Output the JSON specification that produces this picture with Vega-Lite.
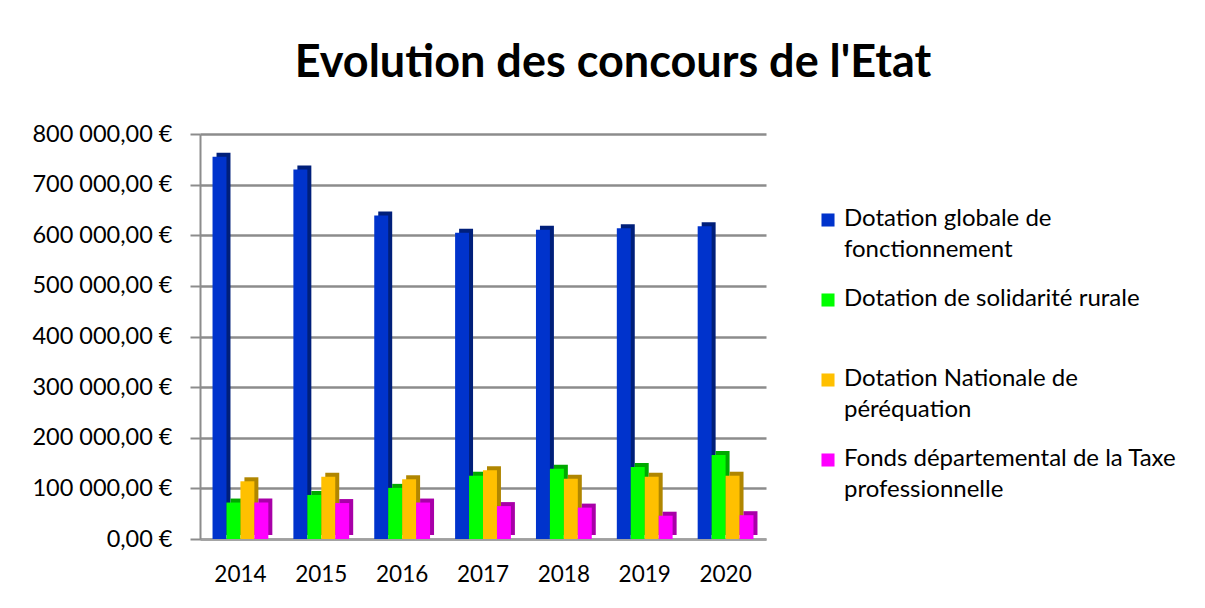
{
  "$schema": "https://vega.github.io/schema/vega-lite/v6.json",
  "width": 566,
  "height": 405,
  "autosize": {"type": "none"},
  "padding": {"left": 200, "top": 134, "right": 439, "bottom": 69},
  "background": "white",
  "title": {
    "text": "Evolution des concours de l'Etat",
    "font": "Lato",
    "fontSize": 45,
    "fontWeight": "bold",
    "color": "#000000",
    "anchor": "middle",
    "dx": 130,
    "offset": 36
  },
  "config": {
    "locale": {
      "number": {"decimal": ",", "thousands": " ", "grouping": [3], "currency": ["", " €"]}
    },
    "view": {"stroke": null},
    "font": "Lato"
  },
  "data": {
    "values": [
      {"annee": "2014", "serie": "Dotation globale de fonctionnement", "montant": 755000},
      {"annee": "2015", "serie": "Dotation globale de fonctionnement", "montant": 730000},
      {"annee": "2016", "serie": "Dotation globale de fonctionnement", "montant": 639000},
      {"annee": "2017", "serie": "Dotation globale de fonctionnement", "montant": 605000},
      {"annee": "2018", "serie": "Dotation globale de fonctionnement", "montant": 611000},
      {"annee": "2019", "serie": "Dotation globale de fonctionnement", "montant": 614000},
      {"annee": "2020", "serie": "Dotation globale de fonctionnement", "montant": 618000},
      {"annee": "2014", "serie": "Dotation de solidarité rurale", "montant": 72000},
      {"annee": "2015", "serie": "Dotation de solidarité rurale", "montant": 87000},
      {"annee": "2016", "serie": "Dotation de solidarité rurale", "montant": 101000},
      {"annee": "2017", "serie": "Dotation de solidarité rurale", "montant": 125000},
      {"annee": "2018", "serie": "Dotation de solidarité rurale", "montant": 139000},
      {"annee": "2019", "serie": "Dotation de solidarité rurale", "montant": 142000},
      {"annee": "2020", "serie": "Dotation de solidarité rurale", "montant": 166000},
      {"annee": "2014", "serie": "Dotation Nationale de péréquation", "montant": 114000},
      {"annee": "2015", "serie": "Dotation Nationale de péréquation", "montant": 123000},
      {"annee": "2016", "serie": "Dotation Nationale de péréquation", "montant": 118000},
      {"annee": "2017", "serie": "Dotation Nationale de péréquation", "montant": 136000},
      {"annee": "2018", "serie": "Dotation Nationale de péréquation", "montant": 119000},
      {"annee": "2019", "serie": "Dotation Nationale de péréquation", "montant": 123000},
      {"annee": "2020", "serie": "Dotation Nationale de péréquation", "montant": 125000},
      {"annee": "2014", "serie": "Fonds départemental de la Taxe professionnelle", "montant": 72000},
      {"annee": "2015", "serie": "Fonds départemental de la Taxe professionnelle", "montant": 71000},
      {"annee": "2016", "serie": "Fonds départemental de la Taxe professionnelle", "montant": 72000},
      {"annee": "2017", "serie": "Fonds départemental de la Taxe professionnelle", "montant": 65000},
      {"annee": "2018", "serie": "Fonds départemental de la Taxe professionnelle", "montant": 62000},
      {"annee": "2019", "serie": "Fonds départemental de la Taxe professionnelle", "montant": 46000},
      {"annee": "2020", "serie": "Fonds départemental de la Taxe professionnelle", "montant": 47000}
    ]
  },
  "encoding": {
    "x": {
      "field": "annee",
      "type": "nominal",
      "scale": {"paddingInner": 0.31, "paddingOuter": 0.155},
      "axis": {
        "title": null,
        "labelAngle": 0,
        "labelFont": "Lato",
        "labelFontSize": 22.5,
        "labelColor": "#000000",
        "labelPadding": 24,
        "ticks": false,
        "domainColor": "#a0a0a0",
        "domainWidth": 2
      }
    },
    "y": {
      "field": "montant",
      "type": "quantitative",
      "scale": {"domain": [0, 800000]},
      "axis": {
        "title": null,
        "format": "$,.2f",
        "values": [0, 100000, 200000, 300000, 400000, 500000, 600000, 700000, 800000],
        "labelOverlap": false,
        "labelFont": "Lato",
        "labelFontSize": 23.5,
        "labelColor": "#000000",
        "labelPadding": 18,
        "tickSize": 10,
        "tickColor": "#8c8c8c",
        "tickWidth": 2,
        "domainColor": "#8c8c8c",
        "domainWidth": 2,
        "gridColor": "#8c8c8c",
        "gridWidth": 2.5
      }
    }
  },
  "layer": [
    {
      "mark": {"type": "bar", "yOffset": -4},
      "encoding": {
        "xOffset": {
          "field": "serie",
          "type": "nominal",
          "sort": ["Dotation globale de fonctionnement", "Dotation de solidarité rurale", "Dotation Nationale de péréquation", "Fonds départemental de la Taxe professionnelle"],
          "scale": {"paddingInner": 0, "paddingOuter": 0, "range": [4, 59.8]}
        },
        "fill": {
          "field": "serie",
          "type": "nominal",
          "scale": {
            "domain": ["Dotation globale de fonctionnement", "Dotation de solidarité rurale", "Dotation Nationale de péréquation", "Fonds départemental de la Taxe professionnelle"],
            "range": ["#001F7A", "#00A800", "#B08600", "#A800A8"]
          },
          "legend": null
        }
      }
    },
    {
      "mark": {"type": "bar"},
      "encoding": {
        "xOffset": {
          "field": "serie",
          "type": "nominal",
          "sort": ["Dotation globale de fonctionnement", "Dotation de solidarité rurale", "Dotation Nationale de péréquation", "Fonds départemental de la Taxe professionnelle"],
          "scale": {"paddingInner": 0, "paddingOuter": 0, "range": [0, 55.8]}
        },
        "color": {
          "field": "serie",
          "type": "nominal",
          "scale": {
            "domain": ["Dotation globale de fonctionnement", "Dotation de solidarité rurale", "Dotation Nationale de péréquation", "Fonds départemental de la Taxe professionnelle"],
            "range": ["#0033CC", "#00FF00", "#FFC000", "#FF00FF"]
          },
          "legend": {
            "title": null,
            "orient": "none",
            "legendX": 616,
            "legendY": 74,
            "symbolType": "square",
            "symbolSize": 170,
            "symbolStrokeWidth": 0,
            "labelFont": "Lato",
            "labelFontSize": 24,
            "labelColor": "#000000",
            "labelLimit": 500,
            "labelBaseline": "top",
            "labelOffset": 4,
            "rowPadding": 25,
            "labelExpr": "datum.label == 'Dotation globale de fonctionnement' ? ['Dotation globale de', 'fonctionnement'] : datum.label == 'Dotation Nationale de péréquation' ? ['Dotation Nationale de', 'péréquation'] : datum.label == 'Fonds départemental de la Taxe professionnelle' ? ['Fonds départemental de la Taxe', 'professionnelle'] : [datum.label, ' ']",
            "encode": {
              "labels": {"update": {"dy": {"value": -13}, "lineHeight": {"value": 31}}}
            }
          }
        }
      }
    }
  ],
  "resolve": {"scale": {"xOffset": "independent", "color": "independent", "fill": "independent"}}
}
